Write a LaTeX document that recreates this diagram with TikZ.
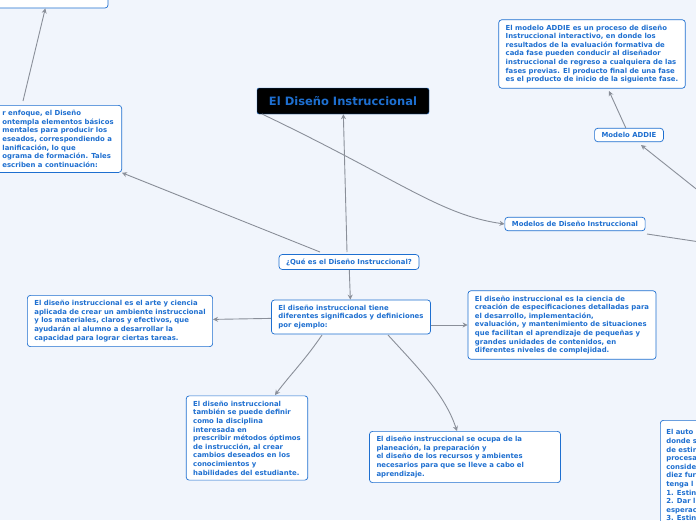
\documentclass[tikz,border=0pt]{standalone}
\usepackage{fontspec}
\setmainfont{DejaVu Sans}
\usetikzlibrary{arrows.meta}
\usetikzlibrary{positioning}
\definecolor{mapblue}{HTML}{1E6FD0}
\definecolor{mapbg}{HTML}{F1F5FC}
\definecolor{linkgray}{HTML}{8A8F99}
\tikzset{
  topic/.style={draw=mapblue, fill=white, rounded corners=3pt, line width=0.7pt,
    text=mapblue, font=\fontsize{6.9}{8.6}\selectfont\bfseries, align=left,
    inner xsep=7pt, inner ysep=5pt},
  link/.style={draw=linkgray, line width=0.9pt, -{Stealth[length=5pt,width=5pt]}},
}
\begin{document}
\begin{tikzpicture}[x=1pt,y=-1pt]
    \fill[mapbg] (0,0) rectangle (696,520);
    \useasboundingbox (0,0) rectangle (696,520);
    \node[draw=mapblue, fill=black, rounded corners=2pt, text=mapblue,
      font=\fontsize{11.5}{13}\selectfont\bfseries, minimum width=172pt, minimum height=26pt] (T) at (343,101) {El Diseño Instruccional};
    \node[topic, minimum width=118pt, minimum height=30pt] (UP) at (49,-7) {};
    \node[topic, anchor=north east, inner xsep=8pt] (E) at (122,105) {r enfoque, el Diseño\\ontempla elementos básicos\\mentales para producir los\\eseados, correspondiendo a\\lanificación, lo que\\ograma de formación. Tales\\escriben a continuación:};
    \node[topic, inner ysep=4pt] (Q) at (349,262) {¿Qué es el Diseño Instruccional?};
    \node[topic] (D) at (351,317) {El diseño instruccional tiene\\diferentes significados y definiciones\\por ejemplo:};
    \node[topic] (D1) at (120,321) {El diseño instruccional es el arte y ciencia\\aplicada de crear un ambiente instruccional\\y los materiales, claros y efectivos, que\\ayudarán al alumno a desarrollar la\\capacidad para lograr ciertas tareas.};
    \node[topic] (D2) at (562,325) {El diseño instruccional es la ciencia de\\creación de especificaciones detalladas para\\el desarrollo, implementación,\\evaluación, y mantenimiento de situaciones\\que facilitan el aprendizaje de pequeñas y\\grandes unidades de contenidos, en\\diferentes niveles de complejidad.};
    \node[topic] (D3) at (247,438) {El diseño instruccional\\también se puede definir\\como la disciplina\\interesada en\\prescribir métodos óptimos\\de instrucción, al crear\\cambios deseados en los\\conocimientos y\\habilidades del estudiante.};
    \node[topic, text width=177pt] (D4) at (465,457) {El diseño instruccional se ocupa de la\\planeación, la preparación y\\el diseño de los recursos y ambientes\\necesarios para que se lleve a cabo el\\aprendizaje.};
    \node[topic, inner ysep=4pt] (M) at (575,224) {Modelos de Diseño Instruccional};
    \node[topic, inner ysep=4pt] (A) at (629,135) {Modelo ADDIE};
    \node[topic] (AT) at (592,54) {El modelo ADDIE es un proceso de diseño\\Instruccional interactivo, en donde los\\resultados de la evaluación formativa de\\cada fase pueden conducir al diseñador\\instruccional de regreso a cualquiera de las\\fases previas. El producto final de una fase\\es el producto de inicio de la siguiente fase.};
    \node[topic, anchor=north west, minimum height=110pt, inner xsep=6pt] (AU) at (660,420) {El auto\\donde s\\de estir\\procesa\\conside\\diez fur\\tenga l\\1. Estin\\2. Dar l\\esperac\\3. Estin};
    \coordinate (R1) at (700,242);
    \coordinate (R2) at (700,192);
    \coordinate (D3in) at (275,395);
    % links
    \draw[link] (23,101) -- (UP);
    \draw[link] (320,252) -- (E.south east);
    \draw[link] (347,252) -- (T);
    \draw[link] (262,114) .. controls (400,180) and (440,215) .. (M.west);
    \draw[link] (Q) -- (D);
    \draw[link] (D) -- (D1);
    \draw[link] (D.east |- D2) -- (D2);
    \draw[link] (322,335) .. controls (305,360) and (290,375) .. (D3in);
    \draw[link] (388,335) .. controls (420,370) and (445,395) .. (457,431);
    \draw[draw=linkgray, line width=0.9pt] (647,234) -- (R1);
    \draw[link] (A) -- (609,91);
    \draw[link] (R2) -- (641,145);
\end{tikzpicture}
\end{document}
